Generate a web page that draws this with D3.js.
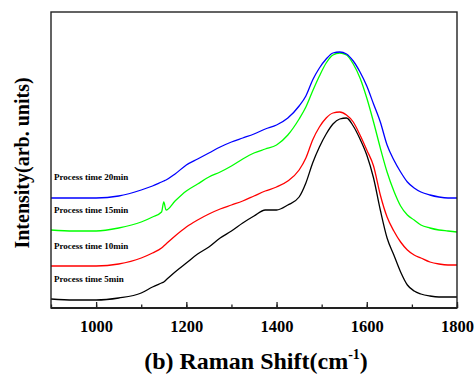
<!DOCTYPE html>
<html><head><meta charset="utf-8">
<script src="https://cdn.jsdelivr.net/npm/d3@7"></script>
<style>body{margin:0;background:#fff}svg{display:block}</style>
</head><body>
<script>
const wavenumbers = [900,950,1000,1050,1100,1125,1145,1150,1155,1175,1200,1225,1250,1275,1300,1325,1350,1375,1400,1425,1450,1465,1480,1495,1510,1525,1540,1555,1570,1585,1600,1615,1630,1645,1660,1675,1690,1705,1720,1740,1760,1780,1800];
const time5min  = [9,8,8,10,15,21,25,26,28,36,45,54,61,70,77,85,92,98,98,103,111,125,145,161,174,184,189,190,182,169,153,130,98,70,53,36,23,17,14,12,11,11,11];
const time10min = [42,42,42,44,50,55,60,62,64,72,81,88,94,99,103,107,112,117,121,127,138,150,168,181,190,195,196,193,186,173,158,142,113,91,77,66,58,53,50,46,44,43,43];
const time15min = [78,77,77,80,86,91,96,106,98,107,117,124,131,136,142,149,155,159,163,173,189,201,217,232,245,253,255,253,244,230,210,186,160,136,117,102,93,88,83,80,78,77,76];
const time20min = [110,110,110,112,118,122,126,127,128,134,143,149,155,161,166,170,174,179,183,190,202,212,228,240,249,255,256,254,247,236,222,204,186,163,148,136,126,120,116,113,111,110,110];
const seriesNames = ["Process time 5min","Process time 10min","Process time 15min","Process time 20min"];
const seriesColors = ["#000000","#ff0000","#00ff00","#0000ff"];
const majorTicks = [1000,1200,1400,1600,1800];
const minorTicks = [900,1000,1100,1200,1300,1400,1500,1600,1700,1800];
const xLabel = "(b) Raman Shift(cm";
const yLabel = "Intensity(arb. units)";

const W = 476, H = 374;
const m = {left:51, right:457, top:12, bottom:308};
const svg = d3.select("body").append("svg").attr("width",W).attr("height",H);
const x = d3.scaleLinear().domain([900,1800]).range([m.left,m.right]);
const y = d3.scaleLinear().domain([0,296]).range([m.bottom,m.top]);

const allSeries = [time5min,time10min,time15min,time20min];
const line = d3.line().x((d,i)=>x(wavenumbers[i])).y(d=>y(d)).curve(d3.curveMonotoneX);
allSeries.forEach((s,k)=>{
  svg.append("path").datum(s).attr("d",line)
    .attr("fill","none").attr("stroke",seriesColors[k]).attr("stroke-width",1.3)
    .attr("stroke-linejoin","round");
});

const labelOffsets = [17, 17, 17, 18];
allSeries.forEach((s,k)=>{
  svg.append("text").attr("x",54).attr("y",y(s[0]) - labelOffsets[k])
    .attr("font-family","'Liberation Serif', 'Times New Roman', serif")
    .attr("font-weight","bold").attr("font-size",9).attr("fill","#000")
    .text(seriesNames[k]);
});

svg.append("rect").attr("x",m.left).attr("y",m.top)
  .attr("width",m.right-m.left).attr("height",m.bottom-m.top)
  .attr("fill","none").attr("stroke","#222").attr("stroke-width",1.4);

const minorAxis = d3.axisBottom(x).tickValues(minorTicks).tickSize(-3.5).tickFormat("");
const gMinor = svg.append("g").attr("transform",`translate(0,${m.bottom})`).call(minorAxis);
gMinor.select(".domain").remove();
gMinor.selectAll("line").attr("stroke","#222").attr("stroke-width",1.3);

const majorAxis = d3.axisBottom(x).tickValues(majorTicks).tickSize(-6).tickPadding(12).tickFormat(d3.format("d"));
const gMajor = svg.append("g").attr("transform",`translate(0,${m.bottom})`).call(majorAxis);
gMajor.select(".domain").remove();
gMajor.selectAll("line").attr("stroke","#222").attr("stroke-width",1.3);
gMajor.selectAll("text").attr("font-family","'Liberation Serif', 'Times New Roman', serif")
  .attr("font-weight","bold").attr("font-size",16.5).attr("fill","#000");

svg.append("line").attr("x1",m.left).attr("x2",m.right).attr("y1",m.bottom).attr("y2",m.bottom)
  .attr("stroke","#222").attr("stroke-width",2);

const xt = svg.append("text").attr("x",256).attr("y",369).attr("text-anchor","middle")
  .attr("font-family","'Liberation Serif', 'Times New Roman', serif")
  .attr("font-weight","bold").attr("font-size",24).attr("fill","#000");
xt.append("tspan").text(xLabel);
xt.append("tspan").attr("font-size",14).attr("dy",-10).text("-1");
xt.append("tspan").attr("dy",10).text(")");

svg.append("text").attr("transform","translate(29,163) rotate(-90)").attr("text-anchor","middle")
  .attr("font-family","'Liberation Serif', 'Times New Roman', serif")
  .attr("font-weight","bold").attr("font-size",20).attr("fill","#000")
  .text(yLabel);
</script>
</body></html>
